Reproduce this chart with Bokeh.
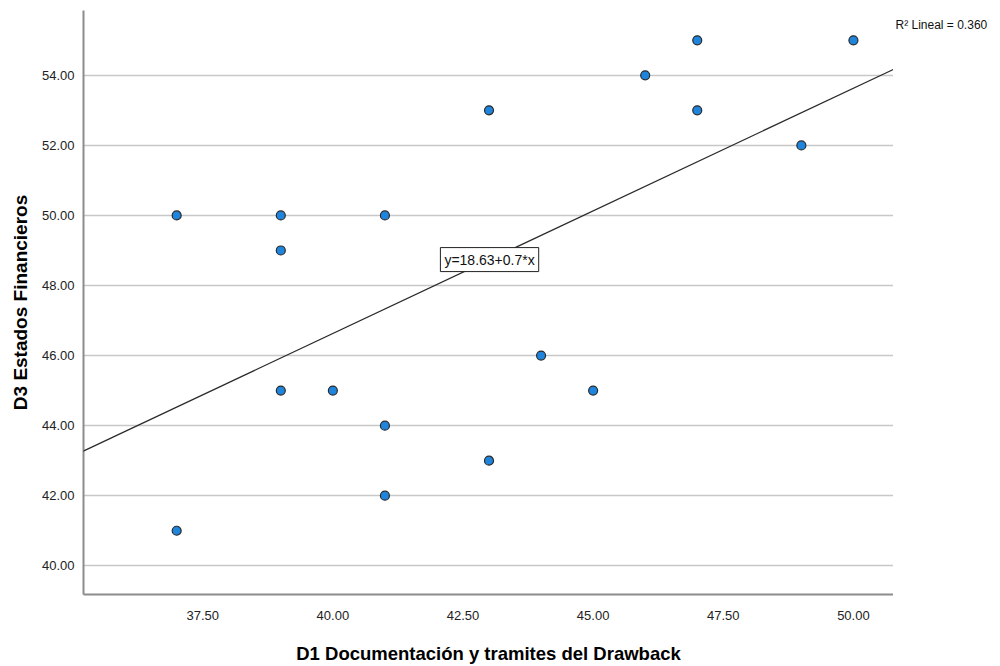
from bokeh.plotting import figure
from bokeh.layouts import row
from bokeh.models import Range1d, FixedTicker, NumeralTickFormatter, Slope, Label
from bokeh.embed import file_html
from bokeh.resources import INLINE

# Data
x_vals = [37, 37, 39, 39, 39, 40, 41, 41, 41, 43, 43, 44, 45, 46, 47, 47, 49, 50]
y_vals = [50, 41, 50, 49, 45, 45, 50, 44, 42, 53, 43, 46, 45, 54, 55, 53, 52, 55]
intercept = 18.63
slope = 0.7
r2_text = "R² Lineal = 0.360"
eq_text = "y=18.63+0.7*x"
x_ticks = [37.5, 40.0, 42.5, 45.0, 47.5, 50.0]
y_ticks = [40, 42, 44, 46, 48, 50, 52, 54]
x_title = "D1 Documentación y tramites del Drawback"
y_title = "D3 Estados Financieros"

FONT = "Liberation Sans"

p = figure(width=893, height=666, output_backend="svg", toolbar_location=None,
           x_range=Range1d(35.21, 50.77), y_range=Range1d(39.18, 55.85),
           min_border_left=83, min_border_right=0, min_border_top=10, min_border_bottom=69)
p.outline_line_color = None
p.background_fill_color = "white"

for ax in (p.xaxis, p.yaxis):
    ax.axis_line_color = "#8c8c8c"
    ax.axis_line_width = 2
    ax.major_tick_line_color = None
    ax.minor_tick_line_color = None
    ax.major_label_text_font = FONT
    ax.major_label_text_font_size = "13px"
    ax.major_label_text_color = "#222222"
    ax.axis_label_text_font = FONT
    ax.axis_label_text_font_style = "bold"
    ax.axis_label_text_color = "#000000"
    ax.formatter = NumeralTickFormatter(format="0.00")

p.xaxis.ticker = FixedTicker(ticks=x_ticks)
p.yaxis.ticker = FixedTicker(ticks=y_ticks)
p.xaxis.axis_label = x_title
p.yaxis.axis_label = y_title
p.xaxis.axis_label_text_font_size = "18.5px"
p.yaxis.axis_label_text_font_size = "19px"
p.xaxis.major_label_standoff = 10
p.yaxis.major_label_standoff = 3
p.xaxis.axis_label_standoff = 20
p.yaxis.axis_label_standoff = 8

p.xgrid.grid_line_color = None
p.ygrid.grid_line_color = "#c8c8c8"
p.ygrid.grid_line_width = 1.5

p.add_layout(Slope(gradient=slope, y_intercept=intercept, line_color="#2a2a2a", line_width=1.3))

p.scatter(x_vals, y_vals, size=9, fill_color="#1f84dc", line_color="#2a2a2a", line_width=1.2)

p.add_layout(Label(x=43.01, y=48.74, text=eq_text, text_font=FONT, text_font_size="14px",
                   text_align="center", text_baseline="middle", text_color="#111111",
                   background_fill_color="white", border_line_color="#222222",
                   border_line_width=1, padding=4))

# Narrow side figure carrying the R² annotation to the right of the plot area
side = figure(width=107, height=666, output_backend="svg", toolbar_location=None,
              x_range=Range1d(0, 107), y_range=Range1d(666, 0),
              min_border_left=0, min_border_right=0, min_border_top=0, min_border_bottom=0)
side.axis.visible = False
side.grid.visible = False
side.outline_line_color = None
side.add_layout(Label(x=2, y=16, text=r2_text, text_font=FONT, text_font_size="12px",
                      text_align="left", text_baseline="middle", text_color="#111111"))

layout = row(p, side, spacing=0)
open("out.html", "w").write(file_html(layout, INLINE))
